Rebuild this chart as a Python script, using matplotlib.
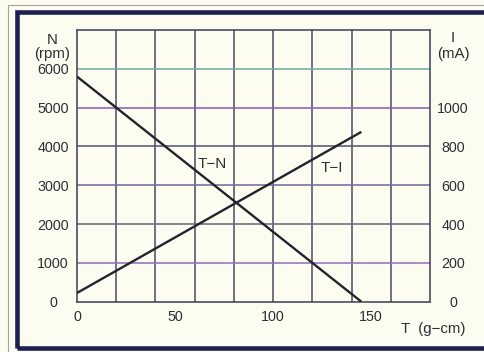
import matplotlib
matplotlib.use("Agg")
import matplotlib.pyplot as plt
from matplotlib.patches import Rectangle

plt.rcParams['font.family'] = ['Liberation Sans', 'DejaVu Sans']

# Data
torque_tn = [0, 145]          # g-cm
speed_rpm = [5800, 0]          # rpm
torque_ti = [0, 145]          # g-cm
current_ma = [45, 875]         # mA

x_ticks = [0, 50, 100, 150]
n_ticks = [0, 1000, 2000, 3000, 4000, 5000, 6000]
i_ticks = [0, 200, 400, 600, 800, 1000]
x_grid = [20, 40, 60, 80, 100, 120, 140, 160]
n_grid = [1000, 2000, 3000, 4000, 5000, 6000]
n_grid_colors = ['#9a70b8', '#6c6a78', '#7a6a9e', '#555a70', '#8a62b0', '#6fb0a0']

bg = '#fdfcf1'
txt = '#2e2e34'
fig = plt.figure(figsize=(4.85, 3.52), dpi=100, facecolor=bg)
ax = fig.add_axes([77/485, 1-301.7/352, (430-77)/485, (301.7-30)/352])
ax.set_facecolor(bg)
ax.set_xlim(0, 180)
ax.set_ylim(0, 7000)

for xv in x_grid:
    ax.axvline(xv, color='#50516a', lw=1.15, zorder=1)
for yv, c in zip(n_grid, n_grid_colors):
    ax.axhline(yv, color=c, lw=1.15, zorder=1)

for s in ax.spines.values():
    s.set_color('#44455a')
    s.set_linewidth(1.15)

ax.plot(torque_tn, speed_rpm, color='#23232e', lw=1.7, zorder=3, solid_capstyle='butt')

ax2 = ax.twinx()
ax2.set_ylim(0, 1400)
ax2.plot(torque_ti, current_ma, color='#23232e', lw=1.7, zorder=3, solid_capstyle='butt')
for s in ax2.spines.values():
    s.set_visible(False)

fs = 10.3
ax.set_xticks(x_ticks)
ax.set_xticklabels([str(v) for v in x_ticks], fontsize=fs, color=txt)
ax.set_yticks(n_ticks)
ax.set_yticklabels([str(v) for v in n_ticks], fontsize=fs, color=txt)
ax2.set_yticks(i_ticks)
ax2.set_yticklabels([str(v) for v in i_ticks], fontsize=fs, color=txt)

ax.tick_params(axis='x', length=0, pad=6)
ax.tick_params(axis='y', length=0, pad=17.3)
ax2.tick_params(axis='y', length=0, pad=16.6)
for lab in ax.get_yticklabels():
    lab.set_horizontalalignment('center')
for lab in ax2.get_yticklabels():
    lab.set_horizontalalignment('center')

ax.text(69, 3560, 'T\u2212N', fontsize=11, ha='center', va='center', color=txt, zorder=4)
ax.text(130, 3440, 'T\u2212I', fontsize=11, ha='center', va='center', color=txt, zorder=4)

fig.text(52/485, 1-40/352, 'N', fontsize=10.8, ha='center', va='center', color=txt)
fig.text(52/485, 1-54/352, '(rpm)', fontsize=10.8, ha='center', va='center', color=txt)
fig.text(453/485, 1-38/352, 'I', fontsize=10.8, ha='center', va='center', color=txt)
fig.text(453/485, 1-54/352, '(mA)', fontsize=10.8, ha='center', va='center', color=txt)
fig.text(433/485, 1-329/352, 'T  (g\u2212cm)', fontsize=10.8, ha='center', va='center', color=txt)

# Frames
fig.add_artist(Rectangle((8/485, -0.05), 1.1, (0.05 + 1 - 4.5/352), transform=fig.transFigure,
                         fill=False, edgecolor='#a8a398', lw=0.8))
fig.add_artist(Rectangle((17/485, 1-347.5/352), 1.1, (347.5-12)/352, transform=fig.transFigure,
                         fill=False, edgecolor='#1e2150', lw=3.3))

fig.savefig('out.png', dpi=100, facecolor=bg)
